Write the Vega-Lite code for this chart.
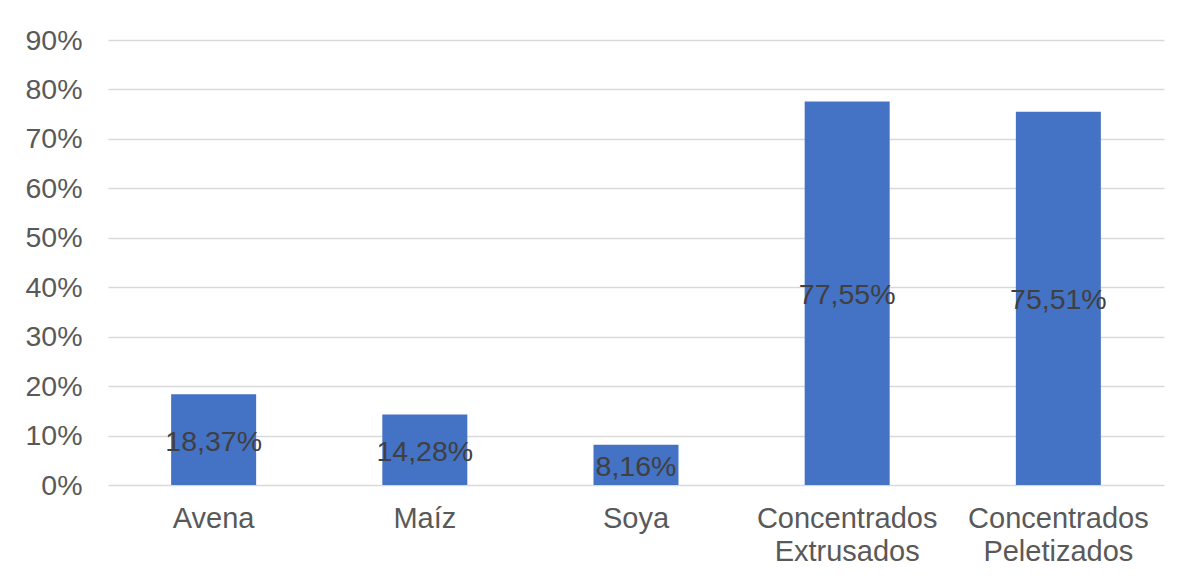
{
  "$schema": "https://vega.github.io/schema/vega-lite/v6.json",
  "autosize": "none",
  "width": 1056,
  "height": 445,
  "padding": {"left": 108, "top": 40, "right": 18, "bottom": 94},
  "background": "white",
  "config": {
    "view": {"stroke": null},
    "locale": {"number": {"decimal": ",", "thousands": ".", "grouping": [3], "currency": ["", " €"]}},
    "font": "Liberation Sans"
  },
  "data": {
    "values": [
      {"categoria": "Avena", "valor": 0.1837},
      {"categoria": "Maíz", "valor": 0.1428},
      {"categoria": "Soya", "valor": 0.0816},
      {"categoria": "Concentrados Extrusados", "valor": 0.7755},
      {"categoria": "Concentrados Peletizados", "valor": 0.7551}
    ]
  },
  "encoding": {
    "x": {
      "field": "categoria",
      "type": "nominal",
      "sort": null,
      "scale": {"paddingInner": 0.5975, "paddingOuter": 0.299},
      "axis": {
        "title": null,
        "labelAngle": 0,
        "domain": false,
        "ticks": false,
        "labelFontSize": 29,
        "labelColor": "#595959",
        "labelPadding": 19,
        "labelLineHeight": 33,
        "labelLimit": 400,
        "labelOverlap": false,
        "labelExpr": "indexof(datum.label, ' ') > 0 ? split(datum.label, ' ') : datum.label"
      }
    }
  },
  "layer": [
    {
      "mark": {"type": "bar", "color": "#4472C4"},
      "encoding": {
        "y": {
          "field": "valor",
          "type": "quantitative",
          "scale": {"domain": [0, 0.9], "nice": false},
          "axis": {
            "title": null,
            "format": ".0%",
            "values": [0, 0.1, 0.2, 0.3, 0.4, 0.5, 0.6, 0.7, 0.8, 0.9],
            "domain": false,
            "ticks": false,
            "labelFontSize": 28.5,
            "labelColor": "#595959",
            "labelPadding": 26,
            "gridColor": "#d9d9d9",
            "gridWidth": 1.5
          }
        }
      }
    },
    {
      "mark": {"type": "text", "fontSize": 28.5, "color": "#404040", "baseline": "middle", "align": "center", "dy": 2},
      "encoding": {
        "y": {"field": "valor", "type": "quantitative", "scale": {"domain": [0, 1.8], "nice": false}, "axis": null},
        "text": {"field": "valor", "type": "quantitative", "format": ".2%"}
      }
    }
  ],
  "resolve": {"scale": {"y": "independent"}}
}
